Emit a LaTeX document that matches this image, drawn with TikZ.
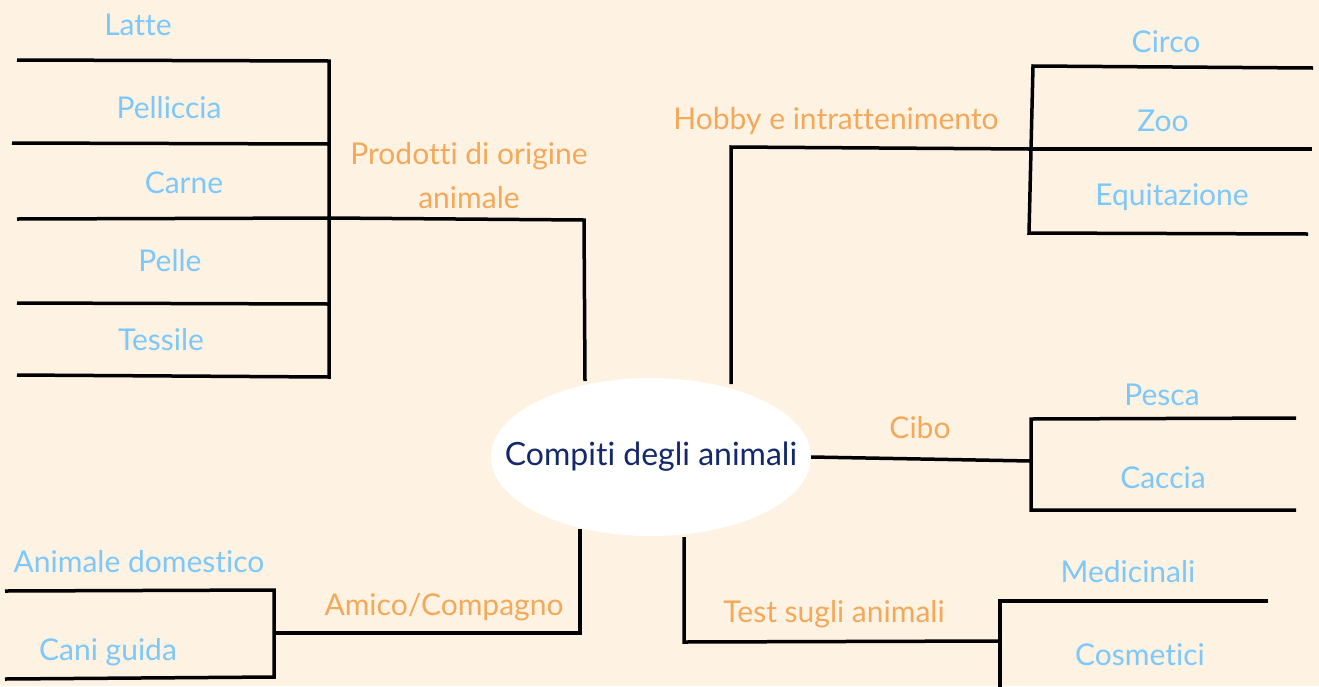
\documentclass[tikz,border=0pt]{standalone}
\usepackage{fontspec}
\setmainfont{Lato}[Ligatures={NoCommon}]
\usetikzlibrary{shapes.geometric}
\definecolor{bgc}{HTML}{FEF2E3}
\definecolor{leafc}{HTML}{7CC8FA}
\definecolor{branchc}{HTML}{F4A95A}
\definecolor{rootc}{HTML}{14286A}
\tikzset{
  leaf/.style={text=leafc,font=\fontsize{30}{34}\selectfont,inner sep=0pt,anchor=center},
  branch/.style={text=branchc,font=\fontsize{30}{34}\selectfont,inner sep=0pt,anchor=center,align=center},
  wire/.style={line width=3.5pt,black,line join=miter},
}
\begin{document}
\begin{tikzpicture}[x=1pt,y=-1pt]
\fill[bgc] (0,0) rectangle (1319,686);
\useasboundingbox (0,0) rectangle (1319,686);
% root
\node[ellipse,fill=white,minimum width=320pt,minimum height=158pt,inner sep=0pt] (root) at (651,457) {};
\node[text=rootc,font=\fontsize{32}{36}\selectfont,inner sep=0pt] (roottext) at (651,457) {Compiti degli animali};
% ---------- Prodotti ----------
\coordinate (p1) at (17,60);   \coordinate (p1r) at (329,61);
\coordinate (p2) at (12,143);  \coordinate (p2r) at (329,144);
\coordinate (p3) at (17,219);  \coordinate (p3r) at (329,218);
\coordinate (p4) at (17,303);  \coordinate (p4r) at (329,304);
\coordinate (p5) at (17,375);  \coordinate (p5r) at (329,377);
\coordinate (pc) at (584,220); \coordinate (pb) at (585,381);
\draw[wire] (p1) -- (p1r) -- (p5r) -- (p5);
\draw[wire] (p2) -- (p2r);
\draw[wire] (p3) -- (p3r) -- (pc) -- (pb);
\draw[wire] (p4) -- (p4r);
\node[leaf] (latte) at (138,25) {Latte};
\node[leaf] (pell) at (169,108) {Pelliccia};
\node[leaf] (carne) at (184,183) {Carne};
\node[leaf] (pelle) at (170,261) {Pelle};
\node[leaf] (tess) at (161,340) {Tessile};
\node[branch] (prod) at (469,176) {Prodotti di origine\\[10pt]animale};
% ---------- Hobby ----------
\coordinate (hb) at (731,384); \coordinate (hc) at (731,147);
\coordinate (hj) at (1029,149);
\coordinate (h1l) at (1033,66);  \coordinate (h1r) at (1313,68);
\coordinate (h2r) at (1312,149);
\coordinate (h3l) at (1029,233); \coordinate (h3r) at (1308,234);
\draw[wire] (hb) -- (hc) -- (hj);
\draw[wire] (h1r) -- (h1l) -- (h3l) -- (h3r);
\draw[wire] (hj) -- (h2r);
\node[branch] (hobby) at (836,121) {Hobby e intrattenimento};
\node[leaf] (circo) at (1166,42) {Circo};
\node[leaf] (zoo) at (1163,121) {Zoo};
\node[leaf] (equi) at (1172,197) {Equitazione};
% ---------- Cibo ----------
\coordinate (cj) at (1031,461);
\coordinate (c1l) at (1031,419); \coordinate (c1r) at (1296,418);
\coordinate (c2l) at (1031,510); \coordinate (c2r) at (1296,510);
\draw[wire] (root.east) -- (cj);
\draw[wire] (c1r) -- (c1l) -- (c2l) -- (c2r);
\node[branch] (cibo) at (920,428) {Cibo};
\node[leaf] (pesca) at (1162,395) {Pesca};
\node[leaf] (caccia) at (1163,478) {Caccia};
% ---------- Test ----------
\coordinate (tt) at (684,537); \coordinate (tc) at (684,642);
\coordinate (tj) at (1000,641);
\coordinate (t1l) at (1000,601); \coordinate (t1r) at (1268,601);
\coordinate (t2) at (1000,690);
\draw[wire] (tt) -- (tc) -- (tj);
\draw[wire] (t1r) -- (t1l) -- (t2);
\node[branch] (test) at (834,614) {Test sugli animali};
\node[leaf] (medi) at (1128,572) {Medicinali};
\node[leaf] (cosm) at (1140,655) {Cosmetici};
% ---------- Amico ----------
\coordinate (at) at (580,529); \coordinate (ac) at (580,633);
\coordinate (aj) at (274,633);
\coordinate (a1l) at (5,591); \coordinate (a1r) at (274,590);
\coordinate (a2l) at (5,679); \coordinate (a2r) at (274,677);
\draw[wire] (at) -- (ac) -- (aj);
\draw[wire] (a1l) -- (a1r) -- (a2r) -- (a2l);
\node[branch] (amico) at (444,607) {Amico/Compagno};
\node[leaf] (dom) at (139,562) {Animale domestico};
\node[leaf] (cani) at (108,652) {Cani guida};
\end{tikzpicture}
\end{document}
